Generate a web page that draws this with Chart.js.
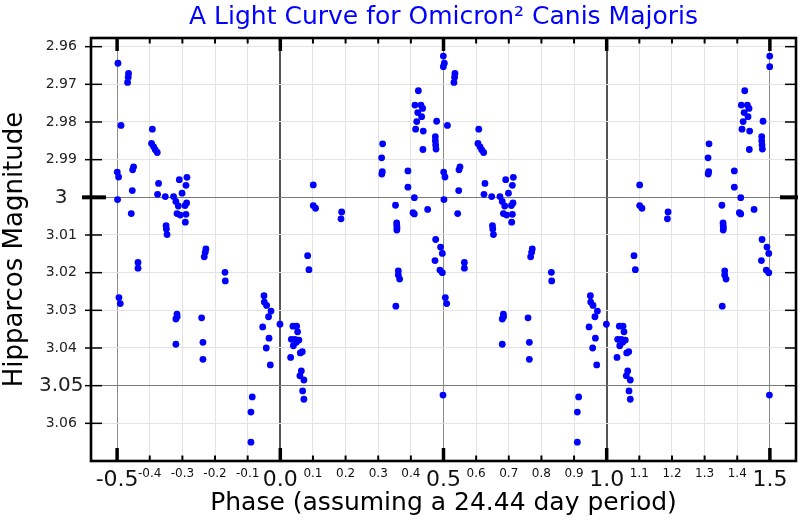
<!DOCTYPE html>
<html>
<head>
<meta charset="utf-8">
<script src="https://cdn.jsdelivr.net/npm/chart.js@4"></script>
<style>
html,body{margin:0;padding:0;background:#fff;}
#wrap{width:800px;height:520px;}
</style>
</head>
<body>
<div id="wrap"><canvas id="c" width="800" height="520"></canvas></div>
<script>
// Folded phase (0..1) and Hipparcos magnitude of each observation
const phase = [
  0.999, 0.0387, 0.050, 0.053, 0.0337, 0.0447, 0.057, 0.049, 0.040, 0.0613,
  0.0674, 0.0316, 0.0644, 0.060, 0.0723, 0.0684, 0.0723, 0.0837, 0.0877, 0.101,
  0.101, 0.108, 0.188, 0.186, 0.3135, 0.3105, 0.3125, 0.311, 0.353, 0.3565,
  0.357, 0.3575, 0.357, 0.3616, 0.3616, 0.3656, 0.354, 0.391, 0.391, 0.4107,
  0.4065, 0.4107, 0.4515, 0.423, 0.4125, 0.431, 0.436, 0.421, 0.433, 0.418,
  0.4146, 0.438, 0.437, 0.479, 0.475, 0.475, 0.476, 0.477, 0.476, 0.491,
  0.4965, 0.474, 0.489, 0.4965, 0.4985, 0.4995, 0.4995, 0.5026, 0.535, 0.534,
  0.532, 0.512, 0.5005, 0.5045, 0.5014, 0.5505, 0.5475, 0.5465, 0.5434, 0.564,
  0.564, 0.5056, 0.5097, 0.608, 0.6055, 0.612, 0.617, 0.623, 0.627, 0.624,
  0.6476, 0.650, 0.651, 0.653, 0.6905, 0.714, 0.711, 0.699, 0.673, 0.680,
  0.713, 0.6875, 0.708, 0.6835, 0.6935, 0.711, 0.709, 0.772, 0.770, 0.767,
  0.8305, 0.8315, 0.6834, 0.684, 0.680, 0.680, 0.759, 0.763, 0.763, 0.950,
  0.951, 0.958, 0.9715, 0.964, 0.946, 0.9654, 0.957, 0.9694, 0.914, 0.910,
  0.910
];
const magnitude = [
  3.0337, 3.0342, 3.0342, 3.0357, 3.0377, 3.0377, 3.0379, 3.0385, 3.0394, 3.0413,
  3.0410, 3.0425, 3.0461, 3.0474, 3.0485, 3.0514, 3.0536, 3.0155, 3.0192, 2.9967,
  3.0022, 3.0029, 3.0039, 3.0057, 2.9858, 2.9895, 2.9932, 2.9938, 3.0021, 3.0068,
  3.0075, 3.0081, 3.0087, 3.0195, 3.0206, 3.0217, 3.0289, 2.9930, 2.9973, 3.0001,
  3.0041, 3.0044, 3.0032, 2.9717, 2.9755, 2.9755, 2.9764, 2.9775, 2.9786, 2.9799,
  2.9819, 2.9824, 2.9873, 2.9798, 2.9839, 2.9850, 2.9861, 2.9872, 3.0112, 3.0132,
  3.0149, 3.0168, 3.0193, 3.0200, 3.0525, 2.9625, 2.9653, 2.9644, 2.9671, 2.9681,
  2.9695, 2.9809, 2.9933, 2.9946, 3.0006, 2.9919, 2.9927, 2.9982, 3.0043, 3.0173,
  3.0188, 3.0266, 3.0282, 2.9819, 2.9857, 2.9866, 2.9874, 2.9881, 2.9963, 2.9992,
  2.9998, 3.0075, 3.0084, 3.0099, 2.9953, 2.9947, 2.9968, 2.9989, 2.9998, 3.0011,
  3.0015, 3.0023, 3.0022, 3.0043, 3.0047, 3.0045, 3.0066, 3.0137, 3.0146, 3.0158,
  3.0199, 3.0222, 3.0310, 3.0317, 3.0323, 3.0390, 3.0320, 3.0385, 3.0430, 3.0261,
  3.0278, 3.0287, 3.0302, 3.0317, 3.0344, 3.0374, 3.0400, 3.0445, 3.0530, 3.0570,
  3.0650
];

const xTickValues = [-0.5,-0.4,-0.3,-0.2,-0.1,0.0,0.1,0.2,0.3,0.4,0.5,0.6,0.7,0.8,0.9,1.0,1.1,1.2,1.3,1.4,1.5];
const xTickLabels = ['-0.5','-0.4','-0.3','-0.2','-0.1','0.0','0.1','0.2','0.3','0.4','0.5','0.6','0.7','0.8','0.9','1.0','1.1','1.2','1.3','1.4','1.5'];
const xMajorLabels = ['-0.5','0.0','0.5','1.0','1.5'];
const xStrongLines = ['0.0','1.0'];

const yTickValues = [2.96,2.97,2.98,2.99,3.00,3.01,3.02,3.03,3.04,3.05,3.06];
const yTickLabels = ['2.96','2.97','2.98','2.99','3','3.01','3.02','3.03','3.04','3.05','3.06'];
const yMajorLabels = ['3','3.05'];
const yThickTick = ['3'];

const titleText = 'A Light Curve for Omicron\u00B2 Canis Majoris';
const xTitle = 'Phase (assuming a 24.44 day period)';
const yTitle = 'Hipparcos Magnitude';

// The folded light curve is shown over two cycles (phase -0.5 .. 1.5)
const points = [];
phase.forEach((p, i) => {
  points.push({x: p, y: magnitude[i]});
  points.push({x: p >= 0.5 ? p - 1 : p + 1, y: magnitude[i]});
});

const FONT = 'DejaVu Sans';

const framePlugin = {
  id: 'frame',
  afterDraw(chart) {
    const {ctx, chartArea: a, scales: {x, y}} = chart;
    ctx.save();
    ctx.strokeStyle = '#000';
    ctx.lineCap = 'butt';
    const line = (x1, y1, x2, y2) => { ctx.beginPath(); ctx.moveTo(x1, y1); ctx.lineTo(x2, y2); ctx.stroke(); };
    xTickValues.forEach((v, i) => {
      const px = x.getPixelForValue(v);
      const major = xMajorLabels.includes(xTickLabels[i]);
      ctx.lineWidth = major ? 3.5 : 2;
      const len = major ? 13 : 5.5;
      line(px, a.top, px, a.top + len);
      line(px, a.bottom - len, px, a.bottom);
    });
    yTickValues.forEach((v, i) => {
      const py = y.getPixelForValue(v);
      const major = yThickTick.includes(yTickLabels[i]);
      ctx.lineWidth = major ? 4 : 1.5;
      line(a.left - (major ? 9 : 6), py, a.left + (major ? 15 : 11), py);
      line(a.right - (major ? 16 : 11), py, a.right + (major ? 2 : 0), py);
    });
    ctx.lineWidth = 2.6;
    ctx.strokeRect(a.left, a.top, a.right - a.left, a.bottom - a.top);
    ctx.restore();
  }
};

new Chart(document.getElementById('c'), {
  type: 'scatter',
  data: {
    datasets: [{
      data: points,
      backgroundColor: '#0000ff',
      borderWidth: 0,
      pointRadius: 3.4,
      pointHoverRadius: 3.4
    }]
  },
  options: {
    responsive: false,
    animation: false,
    devicePixelRatio: 1,
    layout: {padding: {left: 0, right: 4, top: 0, bottom: 0}},
    plugins: {
      legend: {display: false},
      tooltip: {enabled: false},
      title: {
        display: true,
        text: titleText,
        color: '#0000ff',
        fullSize: false,
        font: {family: FONT, size: 25, weight: 'normal'},
        padding: {top: 2.4, bottom: 5.6}
      }
    },
    scales: {
      x: {
        type: 'linear',
        min: -0.58,
        max: 1.58,
        afterBuildTicks: s => { s.ticks = xTickValues.map(v => ({value: v})); },
        afterFit: s => { s.height = 59; },
        border: {display: false},
        grid: {
          drawTicks: false,
          color: c => {
            const l = c.tick ? xTickLabels[c.index] : '';
            if (xStrongLines.includes(l)) return '#555';
            if (xMajorLabels.includes(l)) return '#8c8c8c';
            return '#e3e3e3';
          },
          lineWidth: c => {
            const l = c.tick ? xTickLabels[c.index] : '';
            return xStrongLines.includes(l) ? 2 : 1;
          }
        },
        ticks: {
          autoSkip: false,
          maxRotation: 0,
          minRotation: 0,
          padding: 6,
          color: '#111',
          callback: (v, i) => xTickLabels[i],
          font: c => xMajorLabels.includes(xTickLabels[c.index])
            ? {family: FONT, size: 22}
            : {family: FONT, size: 12}
        },
        title: {
          display: true,
          text: xTitle,
          color: '#000',
          font: {family: FONT, size: 25},
          padding: {top: 0, bottom: 1.6}
        }
      },
      y: {
        type: 'linear',
        reverse: true,
        min: 2.9577,
        max: 3.0700,
        afterBuildTicks: s => { s.ticks = yTickValues.map(v => ({value: v})); },
        afterFit: s => { s.width = 91; },
        border: {display: false},
        grid: {
          drawTicks: false,
          color: c => {
            const l = c.tick ? yTickLabels[c.index] : '';
            return yMajorLabels.includes(l) ? '#7a7a7a' : '#e3e3e3';
          },
          lineWidth: 1
        },
        ticks: {
          autoSkip: false,
          crossAlign: 'center',
          padding: 7.5,
          color: '#222',
          callback: (v, i) => yTickLabels[i],
          font: c => yMajorLabels.includes(yTickLabels[c.index])
            ? {family: FONT, size: 20}
            : {family: FONT, size: 14}
        },
        title: {
          display: true,
          text: yTitle,
          color: '#000',
          font: {family: FONT, size: 26},
          padding: {top: 0, bottom: 0}
        }
      }
    }
  },
  plugins: [framePlugin]
});
</script>
</body>
</html>
